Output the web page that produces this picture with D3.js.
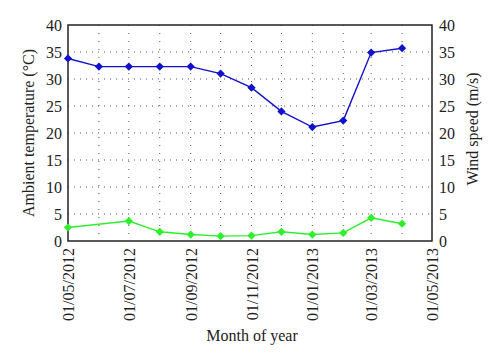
<!DOCTYPE html>
<html>
<head>
<meta charset="utf-8">
<script src="https://cdn.jsdelivr.net/npm/d3@7"></script>
<style>
  body { margin: 0; background: #fff; }
  svg text { font-family: "Liberation Serif", "DejaVu Serif", serif; }
</style>
</head>
<body>
<div id="chart"></div>
<script>
// monthly samples (first of each month)
const months = ["2012-05-01", "2012-06-01", "2012-07-01", "2012-08-01", "2012-09-01", "2012-10-01",
  "2012-11-01", "2012-12-01", "2013-01-01", "2013-02-01", "2013-03-01", "2013-04-01"];
const temperature = [33.8, 32.3, 32.3, 32.3, 32.3, 31.0, 28.4, 24.0, 21.1, 22.3, 34.9, 35.7];
// no wind reading for June 2012
const windSpeed = [2.5, null, 3.7, 1.7, 1.2, 0.9, 1.0, 1.7, 1.2, 1.5, 4.3, 3.2];
const yTicks = [0, 5, 10, 15, 20, 25, 30, 35, 40];

const parse = d3.timeParse("%Y-%m-%d");
const margin = { top: 25, right: 68, bottom: 122, left: 68 },
  width = 500 - margin.left - margin.right,
  height = 363 - margin.top - margin.bottom;

const svg = d3.select("#chart").append("svg")
  .attr("width", 500)
  .attr("height", 363)
  .append("g")
  .attr("transform", `translate(${margin.left},${margin.top})`);

const x = d3.scaleTime()
  .domain([parse("2012-05-01"), parse("2013-05-01")])
  .range([0, width]);

const y = d3.scaleLinear().domain([0, 40]).range([height, 0]);
const y2 = d3.scaleLinear().domain([0, 40]).range([height, 0]);

// dotted grid
const gridMonths = d3.timeMonth.range(parse("2012-06-01"), parse("2013-05-01"));
svg.append("g").selectAll("line")
  .data(gridMonths)
  .join("line")
  .attr("x1", d => x(d)).attr("x2", d => x(d))
  .attr("y1", 0).attr("y2", height)
  .attr("stroke", "#555")
  .attr("stroke-width", 1)
  .attr("stroke-dasharray", "1,7");

svg.append("g").selectAll("line")
  .data(yTicks.slice(1, -1))
  .join("line")
  .attr("x1", 0).attr("x2", width)
  .attr("y1", d => y(d)).attr("y2", d => y(d))
  .attr("stroke", "#555")
  .attr("stroke-width", 1)
  .attr("stroke-dasharray", "1,5");

// axes
const xAxis = svg.append("g")
  .attr("transform", `translate(0,${height})`)
  .call(d3.axisBottom(x)
    .ticks(d3.timeMonth.every(2))
    .tickSize(0)
    .tickFormat(d3.timeFormat("%d/%m/%Y")));
xAxis.select(".domain").remove();
xAxis.selectAll("text")
  .attr("transform", "rotate(-90)")
  .attr("x", -7)
  .attr("y", 0)
  .attr("dy", "0.35em")
  .style("text-anchor", "end")
  .style("font-size", "16px")
  .attr("fill", "#222");

const yAxis = svg.append("g")
  .call(d3.axisLeft(y).tickValues(yTicks).tickSize(0).tickPadding(6));
yAxis.select(".domain").remove();
yAxis.selectAll("text").style("font-size", "16px").attr("fill", "#222");

const yAxis2 = svg.append("g")
  .attr("transform", `translate(${width},0)`)
  .call(d3.axisRight(y2).tickValues(yTicks).tickSize(0).tickPadding(7));
yAxis2.select(".domain").remove();
yAxis2.selectAll("text").style("font-size", "16px").attr("fill", "#222");

// frame
svg.append("rect")
  .attr("width", width)
  .attr("height", height)
  .attr("fill", "none")
  .attr("stroke", "#222")
  .attr("stroke-width", 1.5);

// series
const tempData = months.map((m, i) => ({ date: parse(m), value: temperature[i] }));
const windData = months.map((m, i) => ({ date: parse(m), value: windSpeed[i] }))
  .filter(d => d.value != null);

const diamond = d3.symbol().type(d3.symbolSquare).size(34);

function drawSeries(data, scale, color) {
  svg.append("path")
    .datum(data)
    .attr("fill", "none")
    .attr("stroke", color)
    .attr("stroke-width", 1.4)
    .attr("d", d3.line().x(d => x(d.date)).y(d => scale(d.value)));

  svg.append("g").selectAll("path")
    .data(data)
    .join("path")
    .attr("transform", d => `translate(${x(d.date)},${scale(d.value)}) rotate(45)`)
    .attr("d", diamond)
    .attr("fill", color);
}

drawSeries(tempData, y, "#1212cc");
drawSeries(windData, y2, "#2cf02c");

// labels
svg.append("text")
  .attr("transform", "rotate(-90)")
  .attr("x", -height / 2)
  .attr("y", -margin.left + 34)
  .attr("text-anchor", "middle")
  .style("font-size", "16px")
  .attr("fill", "#222")
  .text("Ambient temperature (°C)");

svg.append("text")
  .attr("transform", "rotate(-90)")
  .attr("x", -height / 2 + 4)
  .attr("y", width + 46)
  .attr("text-anchor", "middle")
  .style("font-size", "16px")
  .attr("fill", "#222")
  .text("Wind speed (m/s)");

svg.append("text")
  .attr("x", width / 2 + 2)
  .attr("y", height + 100)
  .attr("text-anchor", "middle")
  .style("font-size", "16px")
  .attr("fill", "#222")
  .text("Month of year");
</script>
</body>
</html>
